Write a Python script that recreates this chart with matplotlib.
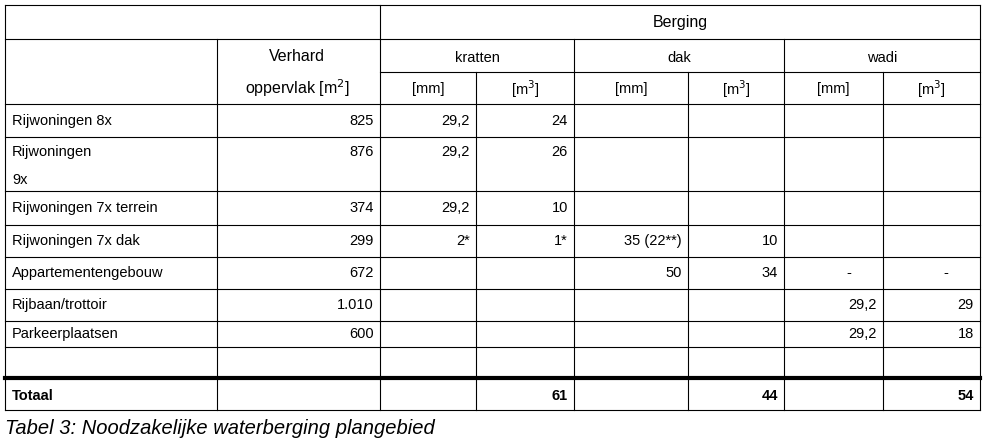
import matplotlib
matplotlib.use("Agg")
import matplotlib.pyplot as plt

names = ["Rijwoningen 8x", "Rijwoningen\n9x", "Rijwoningen 7x terrein", "Rijwoningen 7x dak",
         "Appartementengebouw", "Rijbaan/trottoir", "Parkeerplaatsen", ""]
area = ["825", "876", "374", "299", "672", "1.010", "600", ""]
kr_mm = ["29,2", "29,2", "29,2", "2*", "", "", "", ""]
kr_m3 = ["24", "26", "10", "1*", "", "", "", ""]
dak_mm = ["", "", "", "35 (22**)", "50", "", "", ""]
dak_m3 = ["", "", "", "10", "34", "", "", ""]
wadi_mm = ["", "", "", "", "-", "29,2", "29,2", ""]
wadi_m3 = ["", "", "", "", "-", "29", "18", ""]
totals = ["", "", "61", "", "44", "", "54"]

plt.rcParams['font.family'] = ['Liberation Sans', 'DejaVu Sans']
fig = plt.figure(figsize=(9.87, 4.43), dpi=100)
ax = fig.add_axes([0, 0, 1, 1])
ax.set_xlim(0, 987); ax.set_ylim(443, 0); ax.axis('off')

X = [5, 217, 380, 476, 574, 688, 784, 883, 980]
Y = [5, 39, 72, 104, 137, 191, 225, 257, 289, 321, 347, 377, 410]
lc = '#000000'; lw = 0.8
def h(y, x0=5, x1=980, w=lw): ax.plot([x0, x1], [y, y], color=lc, lw=w)
def v(x, y0, y1): ax.plot([x, x], [y0, y1], color=lc, lw=lw)

h(5); h(39); h(72, 380, 980); h(104)
for y in Y[4:11]: h(y)
h(377.5, w=3); h(410)
v(5, 5, 410); v(980, 5, 410); v(380, 5, 410)
v(217, 39, 410); v(574, 39, 410); v(784, 39, 410)
for x in [476, 688, 883]: v(x, 72, 410)

fs = 10.5
ax.text(680, 22, "Berging", ha='center', va='center', fontsize=11.5)
ax.text(297, 56, "Verhard", ha='center', va='center', fontsize=11.5)
ax.text(297, 88, "oppervlak [m$^2$]", ha='center', va='center', fontsize=11.5)
for t, a, b in [("kratten", 380, 574), ("dak", 574, 784), ("wadi", 784, 980)]:
    ax.text((a+b)/2, 58, t, ha='center', va='center', fontsize=fs)
for i in range(6):
    a, b = X[i+2], X[i+3]
    ax.text((a+b)/2, 89, "[mm]" if i % 2 == 0 else "[m$^3$]", ha='center', va='center', fontsize=fs)

cols = [area, kr_mm, kr_m3, dak_mm, dak_m3, wadi_mm, wadi_m3]
for r in range(8):
    y0, y1 = Y[r+3], Y[r+4]
    yc = (y0 + y1) / 2
    if r == 1:
        ax.text(12, 152, "Rijwoningen", ha='left', va='center', fontsize=fs)
        ax.text(12, 180, "9x", ha='left', va='center', fontsize=fs)
        yc = 152
    else:
        ax.text(12, yc, names[r], ha='left', va='center', fontsize=fs)
    for c, col in enumerate(cols):
        val = col[r]
        if val == "-":
            ax.text(X[c+1] + (X[c+2]-X[c+1]) * 0.65, yc, val, ha='center', va='center', fontsize=fs)
        elif val:
            ax.text(X[c+2] - 6, yc, val, ha='right', va='center', fontsize=fs)

ax.text(12, 396, "Totaal", ha='left', va='center', fontsize=fs, fontweight='bold')
for c, val in enumerate(totals):
    if val:
        ax.text(X[c+2] - 6, 396, val, ha='right', va='center', fontsize=fs, fontweight='bold')

ax.text(5, 428, "Tabel 3: Noodzakelijke waterberging plangebied", ha='left', va='center',
        fontsize=14.5, style='italic', color='black')
fig.savefig("out.png", dpi=100)
